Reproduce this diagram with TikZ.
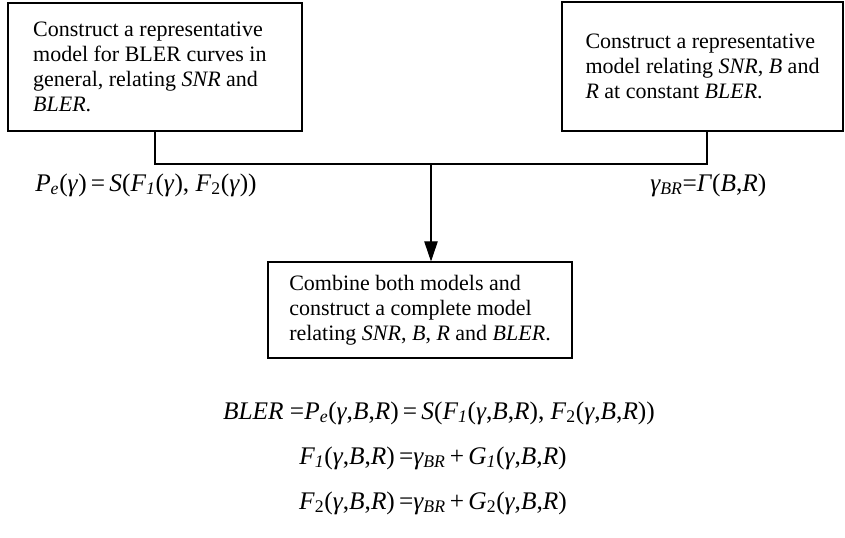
\documentclass[tikz,border=0pt]{standalone}
\usepackage{fontspec}
\setmainfont{Liberation Serif}
\usetikzlibrary{arrows.meta}
\newcommand\lowr[1]{\textsubscript{#1}}
\begin{document}
\begin{tikzpicture}[x=0.75pt,y=-0.75pt,
  stepbox/.style={draw,line width=0.8pt,align=left,inner sep=0pt,
    font=\fontsize{16.5}{18.75}\selectfont},
  eqn/.style={inner sep=0pt,font=\fontsize{19}{22}\selectfont},
  link/.style={line width=0.8pt}]
\useasboundingbox (0,0) rectangle (845,538);
% the two input models (trailing space keeps the text nearer the left edge)
\node[stepbox,minimum width=220.5pt,minimum height=96pt] (m1) at (155,67)
  {Construct a representative\hspace*{10.5pt}\\model for BLER curves in\\general, relating \textit{SNR} and\\\textit{BLER}.};
\node[stepbox,minimum width=210.75pt,minimum height=96.75pt] (m2) at (702.5,66.5)
  {Construct a representative\\model relating \textit{SNR}, \textit{B} and\\\textit{R} at constant \textit{BLER}.};
% the combined model
\node[stepbox,minimum width=228pt,minimum height=72pt] (m3) at (420,310)
  {Combine both models and\\construct a complete model\\relating \textit{SNR}, \textit{B}, \textit{R} and \textit{BLER}.};
% joining connector
\coordinate (j1) at (155,164);
\coordinate (j2) at (707,164);
\coordinate (jc) at (431,164);
\draw[link] (m1.south -| j1) -- (j1) -- (j2) -- (m2.south -| j2);
\draw[link,-{Triangle[length=15pt,width=10pt]}] (jc) -- (jc |- m3.north);
% formulas
\node[eqn,anchor=west] (f1) at (35,185)
  {\textit{P\lowr{e}}(\textit{γ})\,=\,\textit{S}(\textit{F\lowr{1}}(\textit{γ}), \textit{F}\lowr{2}(\textit{γ}))};
\node[eqn,anchor=west] (f2) at (650,185)
  {\textit{γ\lowr{BR}}=\textit{Γ}(\textit{B},\textit{R})};
\node[eqn] (f3) at (439,413)
  {\textit{BLER} =\textit{P\lowr{e}}(\textit{γ},\textit{B},\textit{R})\,=\,\textit{S}(\textit{F\lowr{1}}(\textit{γ},\textit{B},\textit{R}), \textit{F}\lowr{2}(\textit{γ},\textit{B},\textit{R}))};
\node[eqn] (f4) at (433,458)
  {\textit{F\lowr{1}}(\textit{γ},\textit{B},\textit{R})\,=\textit{γ\lowr{BR}}\,+\,\textit{G\lowr{1}}(\textit{γ},\textit{B},\textit{R})};
\node[eqn] (f5) at (433,503)
  {\textit{F}\lowr{2}(\textit{γ},\textit{B},\textit{R})\,=\textit{γ\lowr{BR}}\,+\,\textit{G}\lowr{2}(\textit{γ},\textit{B},\textit{R})};
\end{tikzpicture}
\end{document}
